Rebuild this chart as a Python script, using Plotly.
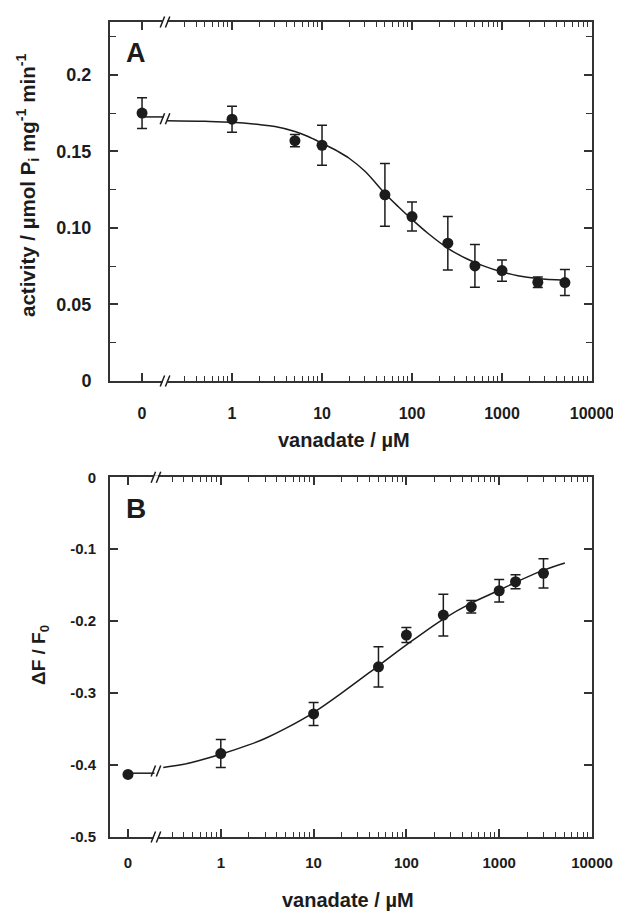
import math
import plotly.graph_objects as go

# ---------------- data ----------------
# Panel A: ATPase activity vs vanadate
conc_A = [0, 1, 5, 10, 50, 100, 250, 500, 1000, 2500, 5000]
act_A = [0.175, 0.171, 0.157, 0.154, 0.1216, 0.1074, 0.090, 0.0752, 0.0721, 0.0645, 0.0643]
err_A = [0.010, 0.0085, 0.004, 0.013, 0.0205, 0.0095, 0.0175, 0.014, 0.007, 0.0035, 0.0085]
fitA_x = [0.19, 0.5, 1, 2, 3, 5, 7, 10, 15, 20, 30, 50, 70, 100, 150, 250, 400, 600, 1000, 1500, 2500, 5000]
fitA_y = [0.1700, 0.1696, 0.1690, 0.1675, 0.1662, 0.1630, 0.1597, 0.1553, 0.1500, 0.1455, 0.1370,
          0.1225, 0.1140, 0.1055, 0.0965, 0.0867, 0.0800, 0.0755, 0.0712, 0.0688, 0.0670, 0.0658]
fitA_zero = 0.1725

# Panel B: fluorescence change vs vanadate
conc_B = [0, 1, 10, 50, 100, 250, 500, 1000, 1500, 3000]
dF_B = [-0.413, -0.384, -0.329, -0.2634, -0.2193, -0.1915, -0.180, -0.1577, -0.1452, -0.1335]
err_B = [0.0, 0.0195, 0.016, 0.028, 0.0105, 0.029, 0.0088, 0.0155, 0.0097, 0.0204]
fitB_x = [0.24, 0.4, 1, 2, 3, 5, 10, 20, 50, 100, 250, 500, 1000, 1500, 3000, 5100]
fitB_y = [-0.4033, -0.3990, -0.3850, -0.3720, -0.3630, -0.3490, -0.3270, -0.3000, -0.2620, -0.2330,
          -0.1970, -0.1750, -0.1570, -0.1460, -0.1290, -0.1190]
fitB_zero = -0.4113

x_tickvals = [0.1, 1, 10, 100, 1000, 10000]
x_ticktext = ["0", "1", "10", "100", "1000", "10000"]
yA_tickvals = [0, 0.05, 0.10, 0.15, 0.2]
yA_ticktext = ["0", "0.05", "0.10", "0.15", "0.2"]
yB_tickvals = [0, -0.1, -0.2, -0.3, -0.4, -0.5]
yB_ticktext = ["0", "-0.1", "-0.2", "-0.3", "-0.4", "-0.5"]

ZERO_POS = 0.1  # position used on the log axis for concentration 0
BREAK_A = 0.18
BREAK_B = 0.20

def xpos(c):
    return ZERO_POS if c == 0 else c

minor_vals = [m * 10 ** d for d in range(-1, 4) for m in range(2, 10) if m * 10 ** d >= 0.3]

INK = "#1c1c1c"
AX = "#333333"
FONT = "Liberation Sans, Arial, Helvetica, sans-serif"

fig = go.Figure()

def add_panel(conc, vals, errs, fx, fy, fzero, brk, xa, ya):
    fig.add_trace(go.Scatter(x=[ZERO_POS, brk * 0.965], y=[fzero, fzero], mode="lines",
                             line=dict(color=INK, width=1.5), xaxis=xa, yaxis=ya,
                             showlegend=False, hoverinfo="skip"))
    fig.add_trace(go.Scatter(x=fx, y=fy, mode="lines", line=dict(color=INK, width=1.5, shape="spline"),
                             xaxis=xa, yaxis=ya, showlegend=False, hoverinfo="skip"))
    fig.add_trace(go.Scatter(x=[xpos(c) for c in conc], y=vals, mode="markers",
                             marker=dict(size=11, color=INK),
                             error_y=dict(type="data", array=errs, thickness=1.5, width=5, color=INK),
                             xaxis=xa, yaxis=ya, showlegend=False))

add_panel(conc_A, act_A, err_A, fitA_x, fitA_y, fitA_zero, BREAK_A, "x", "y")
add_panel(conc_B, dF_B, err_B, fitB_x, fitB_y, fitB_zero, BREAK_B, "x2", "y2")

rangeA = [-1.356, 4]
rangeB = [-1.194, 4]

def xaxis_cfg(rng, anchor, fsize, standoff):
    return dict(type="log", range=rng, anchor=anchor, showline=True, linecolor=AX, linewidth=2,
                mirror="ticks", ticks="inside", ticklen=8, tickwidth=1.5, tickcolor=AX,
                tickvals=x_tickvals, ticktext=x_ticktext, showgrid=False, zeroline=False,
                tickfont=dict(family=FONT, size=fsize, color=INK, weight="bold"),
                ticklabelstandoff=standoff,
                minor=dict(tickmode="array", tickvals=minor_vals, ticks="inside", ticklen=5,
                           tickwidth=1.2, tickcolor=AX, showgrid=False))

def yaxis_cfg(domain, anchor, rng, tv, tt, fsize, standoff, minor_dtick=None):
    d = dict(domain=domain, anchor=anchor, range=rng, showline=True, linecolor=AX, linewidth=2,
             mirror="ticks", ticks="inside", ticklen=8, tickwidth=1.5, tickcolor=AX,
             tickvals=tv, ticktext=tt, showgrid=False, zeroline=False,
             tickfont=dict(family=FONT, size=fsize, color=INK, weight="bold"),
             ticklabelstandoff=standoff)
    if minor_dtick:
        d["minor"] = dict(dtick=minor_dtick, tick0=0, ticks="inside", ticklen=6, tickwidth=1.2,
                          tickcolor=AX, showgrid=False)
    return d

# page geometry (the page body adds an 8 px margin at the top-left)
OFF = 8
W, H = 621 - OFF, 911 - OFF
PL, PR, PT, PB = 110, 592, 22, 837          # plot-area edges in page pixels
ML, MT = PL - OFF, PT - OFF
MR = W - (PR - OFF)
MB = H - (PB - OFF)
PW = PR - PL
PH = PB - PT

def px(xp):
    return (xp - PL) / PW

def py(yp):
    return (PB - yp) / PH

fig.update_layout(
    width=W, height=H, margin=dict(l=ML, r=MR, t=MT, b=MB, autoexpand=False),
    paper_bgcolor="white", plot_bgcolor="white",
    xaxis=xaxis_cfg(rangeA, "y", 16, 17),
    yaxis=yaxis_cfg([py(381), 1], "x", [0, 0.2345], yA_tickvals, yA_ticktext, 18, 13, 0.025),
    xaxis2=xaxis_cfg(rangeB, "y2", 15, 11),
    yaxis2=yaxis_cfg([0, py(477.3)], "x2", [-0.5, 0], yB_tickvals, yB_ticktext, 15, 9),
)

# ---- break marks "//" ----
shapes = []

def slash_pair(xref, xfrac, yref, yval, white_gap=True):
    out = []
    if white_gap:
        out.append(dict(type="line", xref=xref, yref=yref, xsizemode="pixel", ysizemode="pixel",
                        xanchor=xfrac, yanchor=yval, x0=-2.5, x1=2.5, y0=0, y1=0,
                        line=dict(color="white", width=4)))
    for off in (-2.6, 2.6):
        out.append(dict(type="line", xref=xref, yref=yref, xsizemode="pixel", ysizemode="pixel",
                        xanchor=xfrac, yanchor=yval, x0=off - 2.2, x1=off + 2.2, y0=-5.5, y1=5.5,
                        line=dict(color=INK, width=1.5)))
    return out

def dom_frac(val, rng):
    return (math.log10(val) - rng[0]) / (rng[1] - rng[0])

fa = dom_frac(BREAK_A, rangeA)
fb = dom_frac(BREAK_B, rangeB)
shapes += slash_pair("x domain", fa, "y domain", 0)
shapes += slash_pair("x domain", fa, "y domain", 1)
shapes += slash_pair("x domain", fa, "y", fitA_zero - 0.0012, white_gap=False)
shapes += slash_pair("x2 domain", fb, "y2 domain", 0)
shapes += slash_pair("x2 domain", fb, "y2 domain", 1)
shapes += slash_pair("x2 domain", fb, "y2", fitB_zero + 0.003, white_gap=False)
fig.update_layout(shapes=shapes)

# ---- titles and panel letters ----
ann = [
    dict(text="A", x=px(124), y=py(52.5), xanchor="left", yanchor="middle",
         font=dict(family=FONT, size=27, color=INK, weight="bold")),
    dict(text="B", x=px(124), y=py(508), xanchor="left", yanchor="middle",
         font=dict(family=FONT, size=28, color=INK, weight="bold")),
    dict(text="activity / µmol P<sub>i</sub> mg<sup>-1</sup> min<sup>-1</sup>", x=px(28), y=py(185),
         textangle=-90, xanchor="center", yanchor="middle",
         font=dict(family=FONT, size=20.5, color=INK, weight="bold")),
    dict(text="ΔF / F<sub>0</sub>", x=px(40), y=py(655), textangle=-90,
         xanchor="center", yanchor="middle",
         font=dict(family=FONT, size=19, color=INK, weight="bold")),
    dict(text="vanadate / µM", x=px(344), y=py(440), xanchor="center", yanchor="middle",
         font=dict(family=FONT, size=20, color=INK, weight="bold")),
    dict(text="vanadate / µM", x=px(348), y=py(900), xanchor="center", yanchor="middle",
         font=dict(family=FONT, size=20, color=INK, weight="bold")),
]
for a in ann:
    a.update(xref="paper", yref="paper", showarrow=False)
fig.update_layout(annotations=ann)

fig.write_html("out.html")
